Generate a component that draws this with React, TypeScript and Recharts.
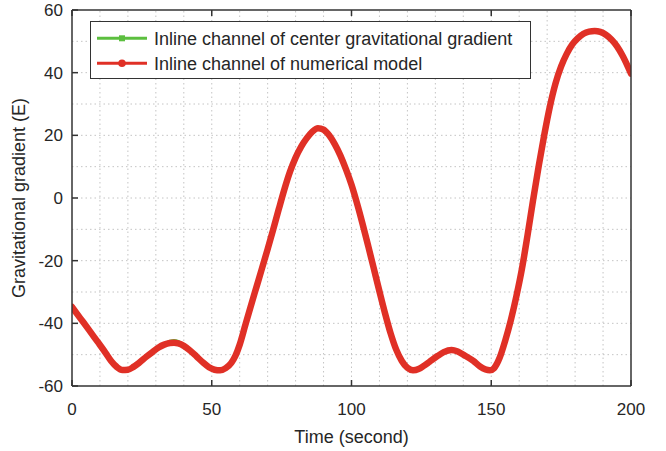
import React from 'react';
import { LineChart, Line, XAxis, YAxis, ReferenceLine, Legend } from 'recharts';

const FONT = '"Liberation Sans", Arial, Helvetica, sans-serif';
const TEXT = '#262626';
const AXIS = '#333333';
const RED = '#e03026';
const GREEN = '#5cbf3f';
const GRID = '#c4c4c4';

const times = [
  0, 3, 6, 9, 12, 14, 16, 18, 20, 22, 24, 26.7, 29, 31, 33, 35, 36.5, 38, 40, 42,
  44.6, 47, 49, 51, 53, 55, 57, 58.5, 60, 62, 64, 66, 68, 70, 72, 74, 76, 78, 80, 82,
  84, 86, 88, 90, 92, 94, 96, 98, 100, 102, 104, 106, 108, 110, 112, 114, 116, 118, 120, 122,
  124, 126, 128, 130.5, 133, 135.8, 138, 140, 143.6, 146, 149.5, 151, 153, 155, 157, 159, 161, 163, 165, 167,
  169, 171, 173, 175, 177, 179, 181, 183, 185, 187, 189, 191, 193, 195, 197, 199, 200,
];

const redValues = [
  -34.8, -38.4, -42, -45.7, -49.4, -52, -53.9, -54.9, -54.8, -53.9, -52.6, -50.6, -49, -47.7, -46.8, -46.3, -46.2, -46.4, -47.2, -48.5,
  -50.6, -52.6, -54, -54.8, -55, -54.3, -52.6, -50.3, -46.8, -40.6, -34.4, -28.4, -22.4, -16.3, -10, -3.5, 2.8, 8.4, 12.9, 16.4,
  19.1, 21.2, 22.3, 21.8, 20, 17.2, 13.6, 9.2, 4.2, -1.8, -8.4, -15.4, -22.6, -29.8, -36.8, -43.2, -48.4, -52, -54.2, -55,
  -54.6, -53.5, -52.2, -50.6, -49.2, -48.5, -49, -50, -52, -53.8, -55, -54.3, -51, -45.5, -39, -31.3, -22.5, -11.8, -0.5, 10.3,
  20.3, 29.3, 36.6, 42, 46, 49, 51, 52.4, 53.1, 53.3, 53, 52.1, 50.6, 48.4, 45.4, 41.7, 39.7,
];

const greenValues = [
  -34.8, -38.4, -42, -45.7, -49.4, -52, -53.9, -54.9, -54.8, -53.9, -52.6, -50.6, -49, -47.7, -46.6, -45.6, -45.4, -45.7, -47, -48.5,
  -50.6, -52.6, -54, -54.8, -55, -54.3, -52.6, -50.3, -46.8, -40.6, -34.4, -28.4, -22.4, -16.3, -10, -3.5, 2.8, 8.4, 12.9, 16.4,
  19.1, 21.2, 22.3, 21.8, 20, 17.2, 13.6, 9.2, 4.2, -1.8, -8.4, -15.4, -22.6, -29.8, -36.8, -43.2, -48.4, -52, -54.2, -55,
  -54.6, -53.5, -52.2, -50.6, -49.2, -48.5, -49, -50, -52, -53.8, -55, -54.3, -51, -45.5, -39, -31.3, -22.5, -11.8, -0.5, 10.3,
  20.3, 29.3, 36.6, 42, 46, 49, 51, 52.4, 53.1, 53.3, 53, 52.1, 50.6, 48.4, 45.4, 41.7, 39.7,
];

const xTicks = [0, 50, 100, 150, 200];
const yTicks = [-60, -40, -20, 0, 20, 40, 60];
const gridX = [10, 20, 30, 40, 50, 60, 70, 80, 90, 100, 110, 120, 130, 140, 150, 160, 170, 180, 190];
const gridY = [-50, -40, -30, -20, -10, 0, 10, 20, 30, 40, 50];

const legendLabels = [
  'Inline channel of center gravitational gradient',
  'Inline channel of numerical model',
];

const data = times.map((t, i) => ({ t, green: greenValues[i], red: redValues[i] }));

const TICK_LEN = 6;

function BottomTick(props: any) {
  const { x, y, payload } = props;
  return (
    <g>
      <line x1={x} y1={y} x2={x} y2={y - TICK_LEN} stroke={AXIS} strokeWidth={1.5} />
      <text x={x} y={y + 29} textAnchor="middle" fill={TEXT} fontSize={17} fontFamily={FONT}>
        {payload.value}
      </text>
    </g>
  );
}

function TopTick(props: any) {
  const { x, y } = props;
  return <line x1={x} y1={y} x2={x} y2={y + TICK_LEN} stroke={AXIS} strokeWidth={1.5} />;
}

function LeftTick(props: any) {
  const { x, y, payload } = props;
  return (
    <g>
      <line x1={x} y1={y} x2={x + TICK_LEN} y2={y} stroke={AXIS} strokeWidth={1.5} />
      <text x={x - 9} y={y + 6} textAnchor="end" fill={TEXT} fontSize={17} fontFamily={FONT}>
        {payload.value}
      </text>
    </g>
  );
}

function RightTick(props: any) {
  const { x, y } = props;
  return <line x1={x} y1={y} x2={x - TICK_LEN} y2={y} stroke={AXIS} strokeWidth={1.5} />;
}

function renderLegend() {
  return (
    <div
      style={{
        width: 441,
        height: 58,
        boxSizing: 'border-box',
        border: `1px solid ${AXIS}`,
        background: '#fff',
      }}
    >
      <svg width={439} height={56} style={{ display: 'block' }}>
        <line x1={6} y1={16.3} x2={56} y2={16.3} stroke={GREEN} strokeWidth={3} />
        <rect x={28} y={13.3} width={6} height={6} fill={GREEN} />
        <text x={63} y={22.8} fontSize={18} fontFamily={FONT} fill={TEXT}>
          {legendLabels[0]}
        </text>
        <line x1={6} y1={41.3} x2={56} y2={41.3} stroke={RED} strokeWidth={3} />
        <circle cx={31} cy={41.3} r={3.8} fill={RED} />
        <text x={63} y={47.8} fontSize={18} fontFamily={FONT} fill={TEXT}>
          {legendLabels[1]}
        </text>
      </svg>
    </div>
  );
}

export default function App() {
  return (
    <div style={{ position: 'absolute', left: 0, top: 0, background: '#fff' }}>
      <LineChart
        width={666}
        height={451}
        data={data}
        margin={{ top: 9, right: 34, bottom: 0, left: 0 }}
      >
        {gridX.map((v) => (
          <ReferenceLine
            key={'gx' + v}
            x={v}
            stroke={GRID}
            strokeDasharray="1.5 3"
            strokeWidth={1}
          />
        ))}
        {gridY.map((v) => (
          <ReferenceLine
            key={'gy' + v}
            y={v}
            stroke={GRID}
            strokeDasharray="1.5 3"
            strokeWidth={1}
          />
        ))}
        <XAxis
          dataKey="t"
          type="number"
          domain={[0, 200]}
          ticks={xTicks}
          interval={0}
          allowDataOverflow
          height={65}
          tickSize={0}
          tickMargin={0}
          tickLine={false}
          tick={BottomTick}
          axisLine={{ stroke: AXIS, strokeWidth: 1.5 }}
          label={{
            value: 'Time (second)',
            position: 'insideBottom',
            offset: 8,
            fill: TEXT,
            fontSize: 18,
            fontFamily: FONT,
          }}
        />
        <XAxis
          xAxisId="top"
          orientation="top"
          dataKey="t"
          type="number"
          domain={[0, 200]}
          ticks={xTicks}
          interval={0}
          height={1}
          tickSize={0}
          tickMargin={0}
          tickLine={false}
          tick={TopTick}
          axisLine={{ stroke: AXIS, strokeWidth: 1.5 }}
        />
        <YAxis
          type="number"
          domain={[-60, 60]}
          ticks={yTicks}
          interval={0}
          allowDataOverflow
          width={72}
          tickSize={0}
          tickMargin={0}
          tickLine={false}
          tick={LeftTick}
          axisLine={{ stroke: AXIS, strokeWidth: 1.5 }}
          label={{
            value: 'Gravitational gradient (E)',
            angle: -90,
            position: 'insideLeft',
            offset: 19,
            fill: TEXT,
            fontSize: 18,
            fontFamily: FONT,
            style: { textAnchor: 'middle' },
          }}
        />
        <YAxis
          yAxisId="right"
          orientation="right"
          type="number"
          domain={[-60, 60]}
          ticks={yTicks}
          interval={0}
          width={1}
          tickSize={0}
          tickMargin={0}
          tickLine={false}
          tick={RightTick}
          axisLine={{ stroke: AXIS, strokeWidth: 1.5 }}
        />
        <Line
          dataKey="green"
          type="monotone"
          stroke={GREEN}
          strokeWidth={2.5}
          dot={false}
          isAnimationActive={false}
        />
        <Line
          dataKey="red"
          type="monotone"
          stroke={RED}
          strokeWidth={6.5}
          strokeLinecap="round"
          strokeLinejoin="round"
          dot={false}
          isAnimationActive={false}
        />
        <Legend
          content={renderLegend}
          layout="horizontal"
          verticalAlign="middle"
          align="center"
          wrapperStyle={{ left: 90, top: 21, width: 441, height: 58 }}
        />
      </LineChart>
    </div>
  );
}
